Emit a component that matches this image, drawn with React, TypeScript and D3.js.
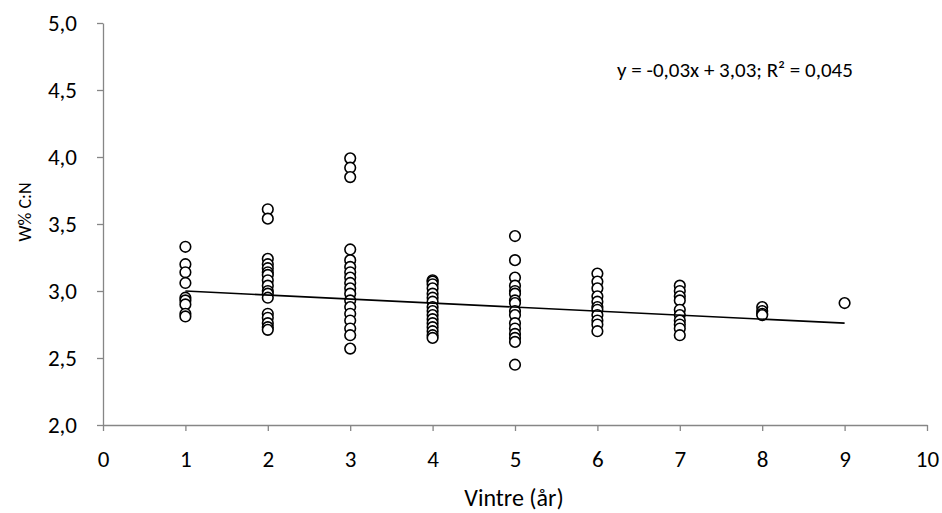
import { useEffect, useRef } from 'react';
import * as d3 from 'd3';

const WIDTH = 942;
const HEIGHT = 513;
const MARGIN = { top: 23, right: 15, bottom: 88, left: 103 };

// W% C:N per vinter (år)
const year1 = [3.33, 3.2, 3.14, 3.06, 2.95, 2.93, 2.9, 2.83, 2.81];
const year2 = [3.61, 3.54, 3.24, 3.2, 3.17, 3.14, 3.12, 3.08, 3.04, 3.0, 2.98, 2.95, 2.83, 2.8, 2.76, 2.73, 2.71];
const year3 = [3.99, 3.92, 3.85, 3.31, 3.23, 3.18, 3.14, 3.1, 3.06, 3.02, 2.98, 2.93, 2.88, 2.83, 2.78, 2.72, 2.67, 2.57];
const year4 = [3.08, 3.07, 3.05, 3.02, 2.98, 2.95, 2.92, 2.88, 2.85, 2.82, 2.79, 2.76, 2.73, 2.7, 2.67, 2.65];
const year5 = [3.41, 3.23, 3.1, 3.04, 3.0, 2.98, 2.93, 2.91, 2.85, 2.82, 2.76, 2.72, 2.68, 2.65, 2.62, 2.45];
const year6 = [3.13, 3.07, 3.02, 2.96, 2.92, 2.88, 2.86, 2.82, 2.78, 2.75, 2.7];
const year7 = [3.04, 3.0, 2.96, 2.93, 2.86, 2.82, 2.78, 2.75, 2.72, 2.67];
const year8 = [2.88, 2.85, 2.83, 2.82];
const year9 = [2.91];

const yearLists = [year1, year2, year3, year4, year5, year6, year7, year8, year9];

// trend: y = -0,03x + 3,03
const trendSlope = -0.03;
const trendIntercept = 3.03;
const trendLabel = 'y = -0,03x + 3,03; R² = 0,045';

const xTicks = [0, 1, 2, 3, 4, 5, 6, 7, 8, 9, 10];
const yTicks = [2.0, 2.5, 3.0, 3.5, 4.0, 4.5, 5.0];

const FONT = 'Carlito, Calibri, "Liberation Sans", sans-serif';
const AXIS_COLOR = '#868686';

export default function App() {
  const svgRef = useRef<SVGSVGElement>(null);

  useEffect(() => {
    if (!svgRef.current) return;
    const svg = d3.select(svgRef.current);
    svg.selectAll('*').remove();

    const boundsWidth = WIDTH - MARGIN.left - MARGIN.right;
    const boundsHeight = HEIGHT - MARGIN.top - MARGIN.bottom;

    const xScale = d3.scaleLinear().domain([0, 10]).range([0, boundsWidth]);
    const yScale = d3.scaleLinear().domain([2, 5]).range([boundsHeight, 0]);
    const fmt = (d: number) => d3.format('.1f')(d).replace('.', ',');

    const g = svg.append('g').attr('transform', `translate(${MARGIN.left}, ${MARGIN.top})`);

    // Eixo Y
    const yAxis = g
      .append('g')
      .call(d3.axisLeft(yScale).tickValues(yTicks).tickFormat(d => fmt(d as number)).tickSize(6).tickSizeOuter(0));
    yAxis.select('.domain').attr('stroke', AXIS_COLOR).attr('stroke-width', 1.3);
    yAxis.selectAll('line').attr('stroke', AXIS_COLOR).attr('stroke-width', 1.3);
    yAxis
      .selectAll('text')
      .attr('x', -26)
      .attr('dy', '0.34em')
      .style('font-family', FONT)
      .style('font-size', '23px')
      .style('fill', '#000');

    // Eixo X
    const xAxis = g
      .append('g')
      .attr('transform', `translate(0, ${boundsHeight})`)
      .call(d3.axisBottom(xScale).tickValues(xTicks).tickFormat(d3.format('d')).tickSize(6).tickSizeOuter(0));
    xAxis.select('.domain').attr('stroke', AXIS_COLOR).attr('stroke-width', 1.3);
    xAxis.selectAll('line').attr('stroke', AXIS_COLOR).attr('stroke-width', 1.3);
    xAxis
      .selectAll('text')
      .attr('y', 42)
      .attr('dy', '0')
      .style('font-family', FONT)
      .style('font-size', '23px')
      .style('fill', '#000');

    // Pontos
    const points = yearLists.flatMap((vals, i) => vals.map(v => ({ x: i + 1, y: v })));
    g.selectAll('circle.pt')
      .data(points)
      .join('circle')
      .attr('class', 'pt')
      .attr('cx', d => xScale(d.x))
      .attr('cy', d => yScale(d.y))
      .attr('r', 5.3)
      .attr('fill', '#fff')
      .attr('stroke', '#000')
      .attr('stroke-width', 1.6);

    // Linha de tendência
    const trendX = [1, 9];
    g.append('line')
      .attr('x1', xScale(trendX[0]))
      .attr('y1', yScale(trendSlope * trendX[0] + trendIntercept))
      .attr('x2', xScale(trendX[1]))
      .attr('y2', yScale(trendSlope * trendX[1] + trendIntercept))
      .attr('stroke', '#000')
      .attr('stroke-width', 1.6);

    g.append('text')
      .attr('x', 617 - MARGIN.left)
      .attr('y', 77 - MARGIN.top)
      .style('font-family', FONT)
      .style('font-size', '21px')
      .style('fill', '#000')
      .text(trendLabel);

    // Labels dos eixos
    svg
      .append('text')
      .attr('x', 514)
      .attr('y', 506)
      .attr('text-anchor', 'middle')
      .style('font-family', FONT)
      .style('font-size', '24px')
      .style('fill', '#000')
      .text('Vintre (år)');

    svg
      .append('text')
      .attr('transform', `translate(31, 212) rotate(-90)`)
      .attr('text-anchor', 'middle')
      .style('font-family', FONT)
      .style('font-size', '18px')
      .style('fill', '#000')
      .text('W% C:N');
  }, []);

  return (
    <svg
      ref={svgRef}
      width={WIDTH}
      height={HEIGHT}
      style={{ position: 'absolute', left: 0, top: 0, background: '#fff' }}
    />
  );
}
